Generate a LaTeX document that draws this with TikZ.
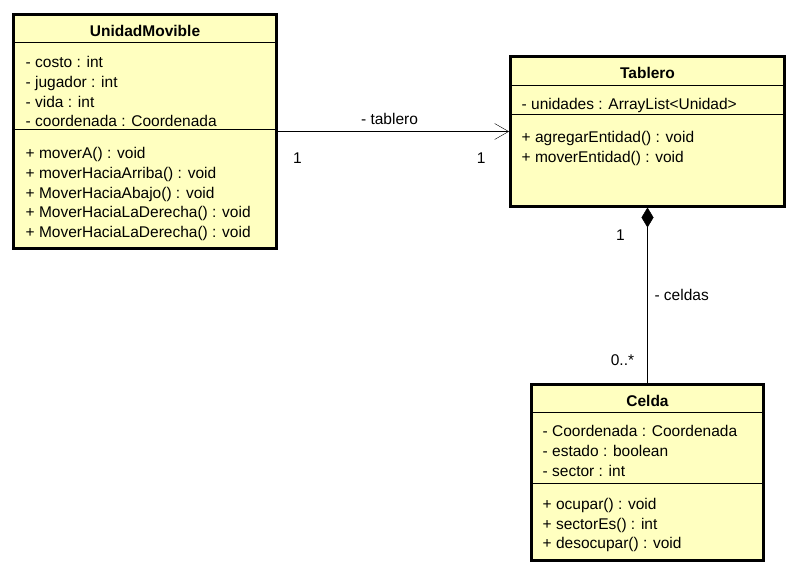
\documentclass[tikz,border=0pt]{standalone}
\usepackage{fontspec}
\setmainfont{Liberation Sans}
\usepackage{tikz}
\usetikzlibrary{shapes, arrows.meta, positioning}
\definecolor{classfill}{HTML}{FFFFC0}

\begin{document}
\begin{tikzpicture}[x=1pt, y=-1pt, font=\fontsize{15.5}{19.7}\selectfont,
    umlclass/.style={draw, rectangle, line width=3pt, fill=classfill, inner sep=0pt},
    classname/.style={font=\fontsize{15.5}{19.7}\selectfont\bfseries},
    members/.style={anchor=north west, align=left, inner sep=0pt}]

        \useasboundingbox (0,0) rectangle (797,573);

        % class boxes
        \node (unidad) [umlclass, minimum width=263pt, minimum height=233.5pt] at (145,131.5) {};
        \node (tablero) [umlclass, minimum width=274pt, minimum height=150pt] at (647.5,131) {};
        \node (celda) [umlclass, minimum width=232pt, minimum height=176pt] at (647.5,472) {};

        % compartments
        \draw ([yshift=-28.5pt]unidad.north west) -- ([yshift=-28.5pt]unidad.north east);
        \draw ([yshift=-116pt]unidad.north west) -- ([yshift=-116pt]unidad.north east);
        \draw ([yshift=-30.7pt]tablero.north west) -- ([yshift=-30.7pt]tablero.north east);
        \draw ([yshift=-60pt]tablero.north west) -- ([yshift=-60pt]tablero.north east);
        \draw ([yshift=-30pt]celda.north west) -- ([yshift=-30pt]celda.north east);
        \draw ([yshift=-101pt]celda.north west) -- ([yshift=-101pt]celda.north east);

        \node (unidadName) [classname] at ([yshift=-17.5pt]unidad.north) {UnidadMovible};
        \node (tableroName) [classname] at ([yshift=-18.3pt]tablero.north) {Tablero};
        \node (celdaName) [classname] at ([yshift=-18pt]celda.north) {Celda};

        \node (unidadAttr) [members] at ([xshift=13.5pt, yshift=-40.5pt]unidad.north west)
            {\strut- costo : int\\- jugador : int\\- vida : int\\- coordenada : Coordenada};
        \node (unidadOps) [members] at ([xshift=13.5pt, yshift=-131.5pt]unidad.north west)
            {\strut+ moverA() : void\\+ moverHaciaArriba() : void\\+ MoverHaciaAbajo() : void\\+ MoverHaciaLaDerecha() : void\\+ MoverHaciaLaDerecha() : void};
        \node (tableroAttr) [members] at ([xshift=12.5pt, yshift=-41.3pt]tablero.north west)
            {\strut- unidades : ArrayList<Unidad>};
        \node (tableroOps) [members] at ([xshift=12.5pt, yshift=-74pt]tablero.north west)
            {\strut+ agregarEntidad() : void\\+ moverEntidad() : void};
        \node (celdaAttr) [members] at ([xshift=12.5pt, yshift=-39.75pt]celda.north west)
            {\strut- Coordenada : Coordenada\\[0.6pt]- estado : boolean\\[0.6pt]- sector : int};
        \node (celdaOps) [members] at ([xshift=12.5pt, yshift=-113pt]celda.north west)
            {\strut+ ocupar() : void\\+ sectorEs() : int\\+ desocupar() : void};

        % associations
        \draw[-{Straight Barb[length=14pt, width=16pt]}] (unidad.east) -- node (tableroRole) [above=3.5pt, xshift=-4pt] {- tablero} (unidad.east -| tablero.west);
        \draw[{Diamond[length=20pt, width=12pt]}-] (tablero.south) -- node (celdasRole) [right=3.5pt] {- celdas} (celda.north);

        \node (unidadMult) at ([xshift=19.5pt, yshift=-26.8pt]unidad.east) {1};
        \node (tableroMult) at ([xshift=-27.7pt, yshift=-27.3pt]tablero.west) {1};
        \node (ownerMult) at ([xshift=-27pt, yshift=-27.3pt]tablero.south) {1};
        \node (partMult) at ([xshift=-25pt, yshift=22.3pt]celda.north) {0..*};
    \end{tikzpicture}
\end{document}
